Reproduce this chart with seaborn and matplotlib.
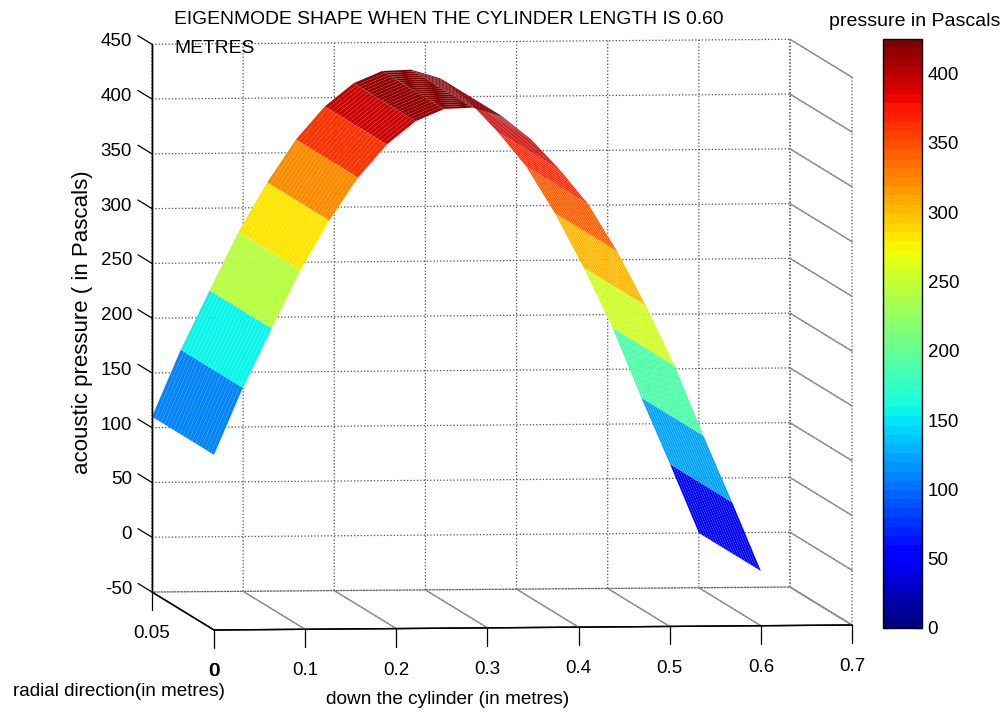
import numpy as np
import matplotlib
matplotlib.use("Agg")
import matplotlib.pyplot as plt
from matplotlib.cm import ScalarMappable
from matplotlib.colors import Normalize
from matplotlib.transforms import Affine2D
from mpl_toolkits.mplot3d import proj3d
import seaborn as sns

# ---- data ----
axial_m = [0.0, 0.0316, 0.0632, 0.0947, 0.1263, 0.1579, 0.1895, 0.2211, 0.2526, 0.2842,
           0.3158, 0.3474, 0.3789, 0.4105, 0.4421, 0.4737, 0.5053, 0.5368, 0.5684, 0.6]
pressure_pa = [110, 171, 225, 278, 323, 362, 392, 413, 424, 425,
               417, 396, 368, 336, 293, 243, 188, 124, 63, 0]
# value that sets each band's colour, read against the colour bar
band_colour_pa = [110, 158, 240, 285, 325, 365, 392, 413, 424, 425,
                  417, 396, 370, 340, 300, 258, 190, 124, 58, 0]
radial_m = [0.0, 0.05]
x_ticks = [0, 0.1, 0.2, 0.3, 0.4, 0.5, 0.6, 0.7]
x_ticklabels = ['0', '0.1', '0.2', '0.3', '0.4', '0.5', '0.6', '0.7']
y_ticks = [0, 0.05]
y_ticklabels = ['0', '0.05']
z_ticks = [-50, 0, 50, 100, 150, 200, 250, 300, 350, 400, 450]
cbar_ticks = [0, 50, 100, 150, 200, 250, 300, 350, 400]
title_text = "EIGENMODE SHAPE WHEN THE CYLINDER LENGTH IS 0.60\nMETRES"

W, H = 1003, 715
sns.set_theme(style="ticks")
plt.rcParams['font.family'] = ['Liberation Sans', 'DejaVu Sans']
FS = 13.5

fig = plt.figure(figsize=(W / 100, H / 100), dpi=100)
ax = fig.add_axes([0.05, 0.05, 0.5, 0.5 * W / H], projection='3d')
ax.set_proj_type('ortho')
ax.view_init(elev=3.97, azim=-96.45)
ax.set_box_aspect((642, 552, 549))
ax.set_xlim(0, 0.7)
ax.set_ylim(0, 0.05)
ax.set_zlim(-50, 450)
ax.patch.set_alpha(0)

cmap = plt.get_cmap("jet", 64)
norm = Normalize(0, 425)

n_fine = 21
y_fine = np.linspace(radial_m[0], radial_m[-1], n_fine)
X, Y = np.meshgrid(axial_m, y_fine)
Z = np.tile(np.array(pressure_pa, float), (n_fine, 1))
C = np.tile(np.array(band_colour_pa, float), (n_fine, 1))
ax.plot_surface(X, Y, Z, facecolors=cmap(norm(C)), shade=False, rstride=1, cstride=1,
                linewidth=0.2, edgecolor=(1, 1, 1, 0.1), antialiased=True, zorder=5)

ax.set_xticks(x_ticks, x_ticklabels, fontsize=FS, color='black')
ax.set_yticks(y_ticks, y_ticklabels, fontsize=FS, color='black')
ax.set_zticks(z_ticks, [str(v) for v in z_ticks], fontsize=FS, color='black')
for axis in (ax.xaxis, ax.yaxis, ax.zaxis):
    axis.set_pane_color((1, 1, 1, 0))
    axis.pane.set_edgecolor('#8c8c8c')
    axis.pane.set_linewidth(1.0)
    axis.line.set_color('black')
    axis.line.set_linewidth(1.0)
    axis._axinfo['grid'].update(color='#4d4d4d', linewidth=0.9, linestyle=':')
    axis._axinfo['tick'].update(inward_factor=0.0, outward_factor=0.0)
ax.tick_params(axis='both', pad=4)

# solid grey lines on the right wall and floor, and tick marks outside the box
x_end, y_end, z_low = x_ticks[-1], y_ticks[-1], z_ticks[0]
for z in z_ticks:
    ax.plot([x_end, x_end], [0, y_end], [z, z], color='#8c8c8c', lw=1.0, zorder=1)
    ax.plot([0, 0], [y_end, y_end * 1.226], [z, z], color='black', lw=0.9, zorder=1)
for x in x_ticks:
    ax.plot([x, x], [0, y_end], [z_low, z_low], color='#8c8c8c', lw=1.0, zorder=1)
    ax.plot([x, x], [0, 0], [z_low, z_low - 16.4], color='black', lw=0.9, zorder=1)
ax.plot([0, 0], [y_end, y_end], [z_low, z_low - 16.4], color='black', lw=0.9, zorder=1)
ax.plot([0, 0], [0, y_end], [z_low, z_low], color='black', lw=1.0, zorder=2)
ax.plot([0, x_end], [0, 0], [z_low, z_low], color='black', lw=1.0, zorder=2)
ax.plot([0, 0], [y_end, y_end], [z_low, z_ticks[-1]], color='black', lw=1.0, zorder=2)


def offset_labels(axis, dx, dy, ha=None):
    # Axis3D resets label transforms whenever it fetches its ticks, so wrap that call
    fetch = axis.get_major_ticks

    def wrapped(numticks=None):
        ticks = fetch(numticks)
        for tick in ticks:
            tick.label1.set_transform(ax.transData + Affine2D().translate(dx, dy))
            if ha:
                tick.label1.set_ha(ha)
        return ticks
    axis.get_major_ticks = wrapped


offset_labels(ax.xaxis, -2, -14)
offset_labels(ax.yaxis, 20, -14.5)
offset_labels(ax.zaxis, 3, 10, ha='right')


def to_px(ax_, x, y, z):
    M = ax_.get_proj()
    a, b, _ = proj3d.proj_transform(x, y, z, M)
    return ax_.transData.transform((a, b))


# place the box so that its front edge matches the layout
ax.apply_aspect()
p0 = to_px(ax, 0, 0, -50)
p1 = to_px(ax, 0.7, 0, -50)
pos = ax.get_position()
scale = 638 / (p1[0] - p0[0])
new_w, new_h = pos.width * scale, pos.height * scale
ax.set_position([pos.x0, pos.y0, new_w, new_h])
ax.apply_aspect()
p0 = to_px(ax, 0, 0, -50)
dx, dy = 214 - p0[0], (H - 630) - p0[1]
pos = ax.get_position()
ax.set_position([pos.x0 + dx / W, pos.y0 + dy / H, pos.width, pos.height])

# colour bar
cax = fig.add_axes([883 / W, 1 - 628 / H, 39 / W, 589 / H])
cb = fig.colorbar(ScalarMappable(norm=norm, cmap=cmap), cax=cax, ticks=cbar_ticks)
cb.outline.set_edgecolor('black')
cb.outline.set_linewidth(1.0)
cb.ax.tick_params(which='major', direction='in', left=True, right=True, length=4,
                  width=0.9, labelsize=FS, color='black', labelcolor='black', pad=4)

# texts
fig.text(174 / W, 1 - 11 / H, title_text, fontsize=13.9, va='top', ha='left', color='black', linespacing=1.9)
fig.text(915 / W, 1 - 21 / H, "pressure in Pascals", fontsize=14, ha='center', va='center', color='black')
fig.text(83 / W, 1 - 322 / H, "acoustic pressure ( in Pascals)", fontsize=16, rotation=90,
         ha='center', va='center', color='black')
fig.text(448 / W, 1 - 699 / H, "down the cylinder (in metres)", fontsize=13.7, ha='center', va='center', color='black')
fig.text(119 / W, 1 - 691 / H, "radial direction(in metres)", fontsize=13.6, ha='center', va='center', color='black')

fig.savefig("out.png", dpi=100, facecolor='white')
